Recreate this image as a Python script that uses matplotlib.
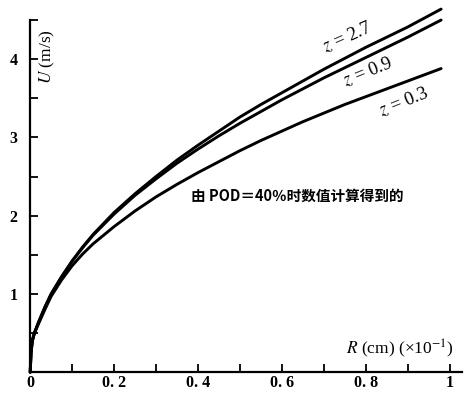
import matplotlib
matplotlib.use('Agg')
import matplotlib.pyplot as plt

plt.rcParams['font.family'] = ['Liberation Serif', 'DejaVu Serif']
plt.rcParams['mathtext.fontset'] = 'stix'

# values
R = [0, 0.002, 0.005, 0.01, 0.02, 0.035, 0.05, 0.075, 0.1, 0.125, 0.15, 0.2, 0.25,
     0.3, 0.35, 0.4, 0.45, 0.5, 0.55, 0.6, 0.65, 0.7, 0.75, 0.8, 0.85, 0.9, 0.98]
u_z27 = [0, 0.25, 0.4, 0.5, 0.64, 0.83, 1.0, 1.22, 1.42, 1.6, 1.76, 2.04, 2.28,
         2.5, 2.71, 2.9, 3.08, 3.26, 3.42, 3.57, 3.72, 3.87, 4.01, 4.15, 4.28, 4.41, 4.64]
u_z09 = [0, 0.25, 0.4, 0.5, 0.64, 0.83, 1.0, 1.22, 1.42, 1.59, 1.75, 2.02, 2.26,
         2.47, 2.67, 2.85, 3.02, 3.18, 3.33, 3.48, 3.62, 3.76, 3.89, 4.02, 4.15, 4.28, 4.5]
u_z03 = [0, 0.25, 0.4, 0.5, 0.62, 0.8, 0.97, 1.18, 1.36, 1.51, 1.64, 1.86, 2.06,
         2.24, 2.4, 2.55, 2.69, 2.83, 2.96, 3.08, 3.2, 3.31, 3.42, 3.52, 3.62, 3.72, 3.88]
curve_labels = ['2.7', '0.9', '0.3']

xticks = [0, 0.2, 0.4, 0.6, 0.8, 1.0]
xticklabels = ['0', '0. 2', '0. 4', '0. 6', '0. 8', '1']
yticks = [1, 2, 3, 4]

fig = plt.figure(figsize=(4.72, 3.93), dpi=100)
ax = fig.add_axes([0.064, 0.053, 0.915, 0.896])

for u in (u_z27, u_z09, u_z03):
    ax.plot(R, u, color='black', lw=2.1, clip_on=False, solid_capstyle='round',
            solid_joinstyle='round')

ax.set_xlim(0, 1.03)
ax.set_ylim(0, 4.5)
for s in ['top', 'right']:
    ax.spines[s].set_visible(False)
for s in ['left', 'bottom']:
    ax.spines[s].set_linewidth(1.6)

ax.set_xticks(xticks)
ax.set_xticklabels(xticklabels, weight='bold')
ax.set_xticks([0.1, 0.3, 0.5, 0.7, 0.9], minor=True)
ax.set_yticks(yticks)
ax.set_yticklabels([str(v) for v in yticks], weight='bold')
ax.set_yticks([0.5, 1.5, 2.5, 3.5, 4.5], minor=True)
ax.tick_params(which='both', direction='in', width=1.3, length=6, labelsize=11.5)
ax.tick_params(axis='x', pad=2)
ax.tick_params(axis='y', pad=9)

# curve labels
pos = [(347, 37, 24), (368, 72, 22), (404, 102, 22)]
for lab, (px, py, rot) in zip(curve_labels, pos):
    fig.text(px / 472, 1 - py / 393, '$z$ = ' + lab, fontsize=13.5,
             rotation=rot, ha='center', va='center')

fig.text(47 / 472, 1 - 57 / 393, '$U$ (m/s)', fontsize=12.5, rotation=90,
         ha='center', va='center')
fig.text(400 / 472, 1 - 349 / 393, '$R$ (cm) (×10$^{-1}$)', fontsize=12.5,
         ha='center', va='center')
fig.text(297 / 472, 1 - 196 / 393, '由 POD＝40％时数值计算得到的', fontsize=10.5,
         family=['Noto Sans CJK SC', 'DejaVu Sans'], weight='bold',
         ha='center', va='center')

plt.savefig('out.png', dpi=100)
